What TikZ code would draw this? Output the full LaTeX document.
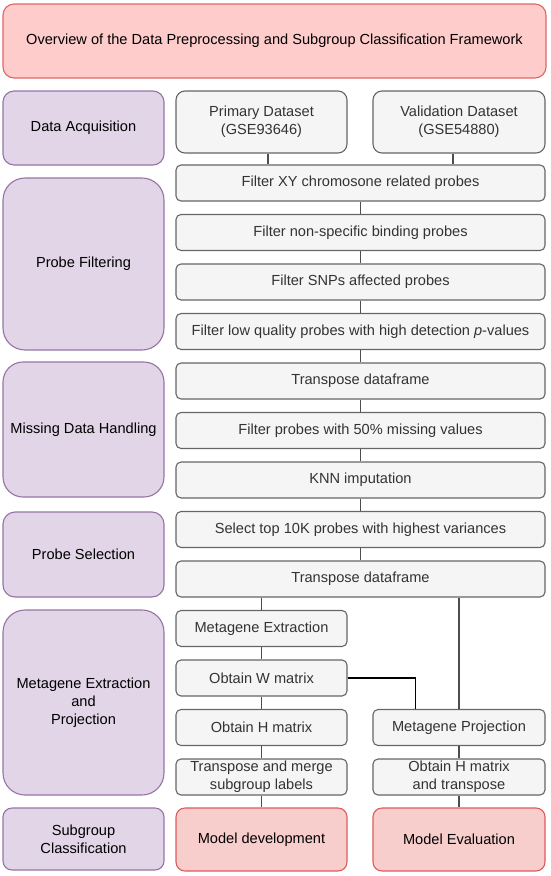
\documentclass[tikz,border=0pt]{standalone}
\usepackage{fontspec}
\setmainfont{Liberation Sans}
\usetikzlibrary{calc}
\definecolor{titlefill}{HTML}{FFCCCC}
\definecolor{titledraw}{HTML}{E06666}
\definecolor{purfill}{HTML}{E1D5E7}
\definecolor{purdraw}{HTML}{9673A6}
\definecolor{gfill}{HTML}{F5F5F5}
\definecolor{gdraw}{HTML}{666666}
\definecolor{gtext}{HTML}{333333}
\definecolor{rfill}{HTML}{F8CECC}
\definecolor{rdraw}{HTML}{E05A5A}
\definecolor{conncol}{HTML}{4D4D4D}
\tikzset{
  base/.style={line width=1.1pt, inner sep=0pt, align=center,
    font=\fontsize{14.6}{18}\selectfont},
  titlebox/.style={base, fill=titlefill, draw=titledraw, rounded corners=11pt, text=black},
  phase/.style={base, fill=purfill, draw=purdraw, minimum width=161pt, text=black},
  gbox/.style={base, fill=gfill, draw=gdraw, rounded corners=5pt, text=gtext, minimum height=36pt},
  wide/.style={gbox, minimum width=369pt},
  half/.style={minimum width=171pt},
  halfr/.style={minimum width=172pt},
  rbox/.style={base, fill=rfill, draw=rdraw, rounded corners=9pt, text=black, minimum height=63pt},
  conn/.style={draw=conncol, line width=1.4pt},
  connk/.style={draw=black, line width=1.3pt}
}
\begin{document}
\begin{tikzpicture}[x=1pt,y=-1pt]
\useasboundingbox (0,0) rectangle (550,876);
% title
\node[titlebox, minimum width=543pt, minimum height=74pt] (title) at (274.5,41) {Overview of the Data Preprocessing and Subgroup Classification Framework};
% left phases
\node[phase, minimum height=74pt, rounded corners=11pt] (da) at (83.5,128) {Data Acquisition};
\node[phase, minimum height=172pt, rounded corners=22pt] (pf) at (83.5,264) {Probe Filtering};
\node[phase, minimum height=135pt, rounded corners=20pt] (mdh) at (83.5,429.5) {Missing Data Handling};
\node[phase, minimum height=85pt, rounded corners=12pt] (ps) at (83.5,554.5) {Probe Selection};
\node[phase, minimum height=185pt, rounded corners=22pt] (mep) at (83.5,702.5) {Metagene Extraction\\and\\Projection};
\node[phase, minimum height=62pt, rounded corners=9pt] (sc) at (83.5,839) {Subgroup\\Classification};
% data
\node[gbox, half, minimum height=62pt, rounded corners=9pt] (prim) at (261.5,122) {Primary Dataset\\(GSE93646)};
\node[gbox, halfr, minimum height=62pt, rounded corners=9pt] (val) at (459,122) {Validation Dataset\\(GSE54880)};
% wide steps
\node[wide] (fxy) at (360.5,183) {Filter XY chromosone related probes};
\node[wide] (fns) at (360.5,232.5) {Filter non-specific binding probes};
\node[wide] (snp) at (360.5,282) {Filter SNPs affected probes};
\node[wide] (flq) at (360.5,331.5) {Filter low quality probes with high detection \textit{p}-values};
\node[wide] (tr1) at (360.5,381) {Transpose dataframe};
\node[wide] (f50) at (360.5,430.5) {Filter probes with 50\% missing values};
\node[wide] (knn) at (360.5,480) {KNN imputation};
\node[wide] (sel) at (360.5,529.5) {Select top 10K probes with highest variances};
\node[wide] (tr2) at (360.5,579) {Transpose dataframe};
% metagene
\node[gbox, half] (mex) at (261.5,628.5) {Metagene Extraction};
\node[gbox, half] (ow) at (261.5,678) {Obtain W matrix};
\node[gbox, half] (oh) at (261.5,727.5) {Obtain H matrix};
\node[gbox, half] (tm) at (261.5,777) {Transpose and merge\\subgroup labels};
\node[gbox, halfr] (mpj) at (459,727.5) {Metagene Projection};
\node[gbox, halfr] (oht) at (459,777) {Obtain H matrix\\and transpose};
% models
\node[rbox, half] (md) at (261.5,839.5) {Model development};
\node[rbox, halfr] (me) at (459,839.5) {Model Evaluation};
% connectors
\coordinate (q1) at ($(fxy.north west)!0.25!(fxy.north east)$);
\coordinate (q3) at ($(fxy.north west)!0.75!(fxy.north east)$);
\coordinate (p1) at ($(mpj.north west)!0.25!(mpj.north east)$);
\draw[conn] (q1 |- prim.south) -- (q1);
\draw[conn] (q3 |- val.south) -- (q3);
\draw[conn] (fxy) -- (fns);
\draw[conn] (fns) -- (snp);
\draw[conn] (snp) -- (flq);
\draw[conn] (flq) -- (tr1);
\draw[conn] (tr1) -- (f50);
\draw[conn] (f50) -- (knn);
\draw[conn] (knn) -- (sel);
\draw[conn] (sel) -- (tr2);
\draw[conn] (mex.north |- tr2.south) -- (mex.north);
\draw[conn] (mpj.north |- tr2.south) -- (mpj.north);
\draw[conn] (mex) -- (ow);
\draw[conn] (ow) -- (oh);
\draw[conn] (oh) -- (tm);
\draw[conn] (tm) -- (md);
\draw[conn] (mpj) -- (oht);
\draw[conn] (oht) -- (me);
\draw[connk] (ow.east) -| (p1);
\end{tikzpicture}
\end{document}
